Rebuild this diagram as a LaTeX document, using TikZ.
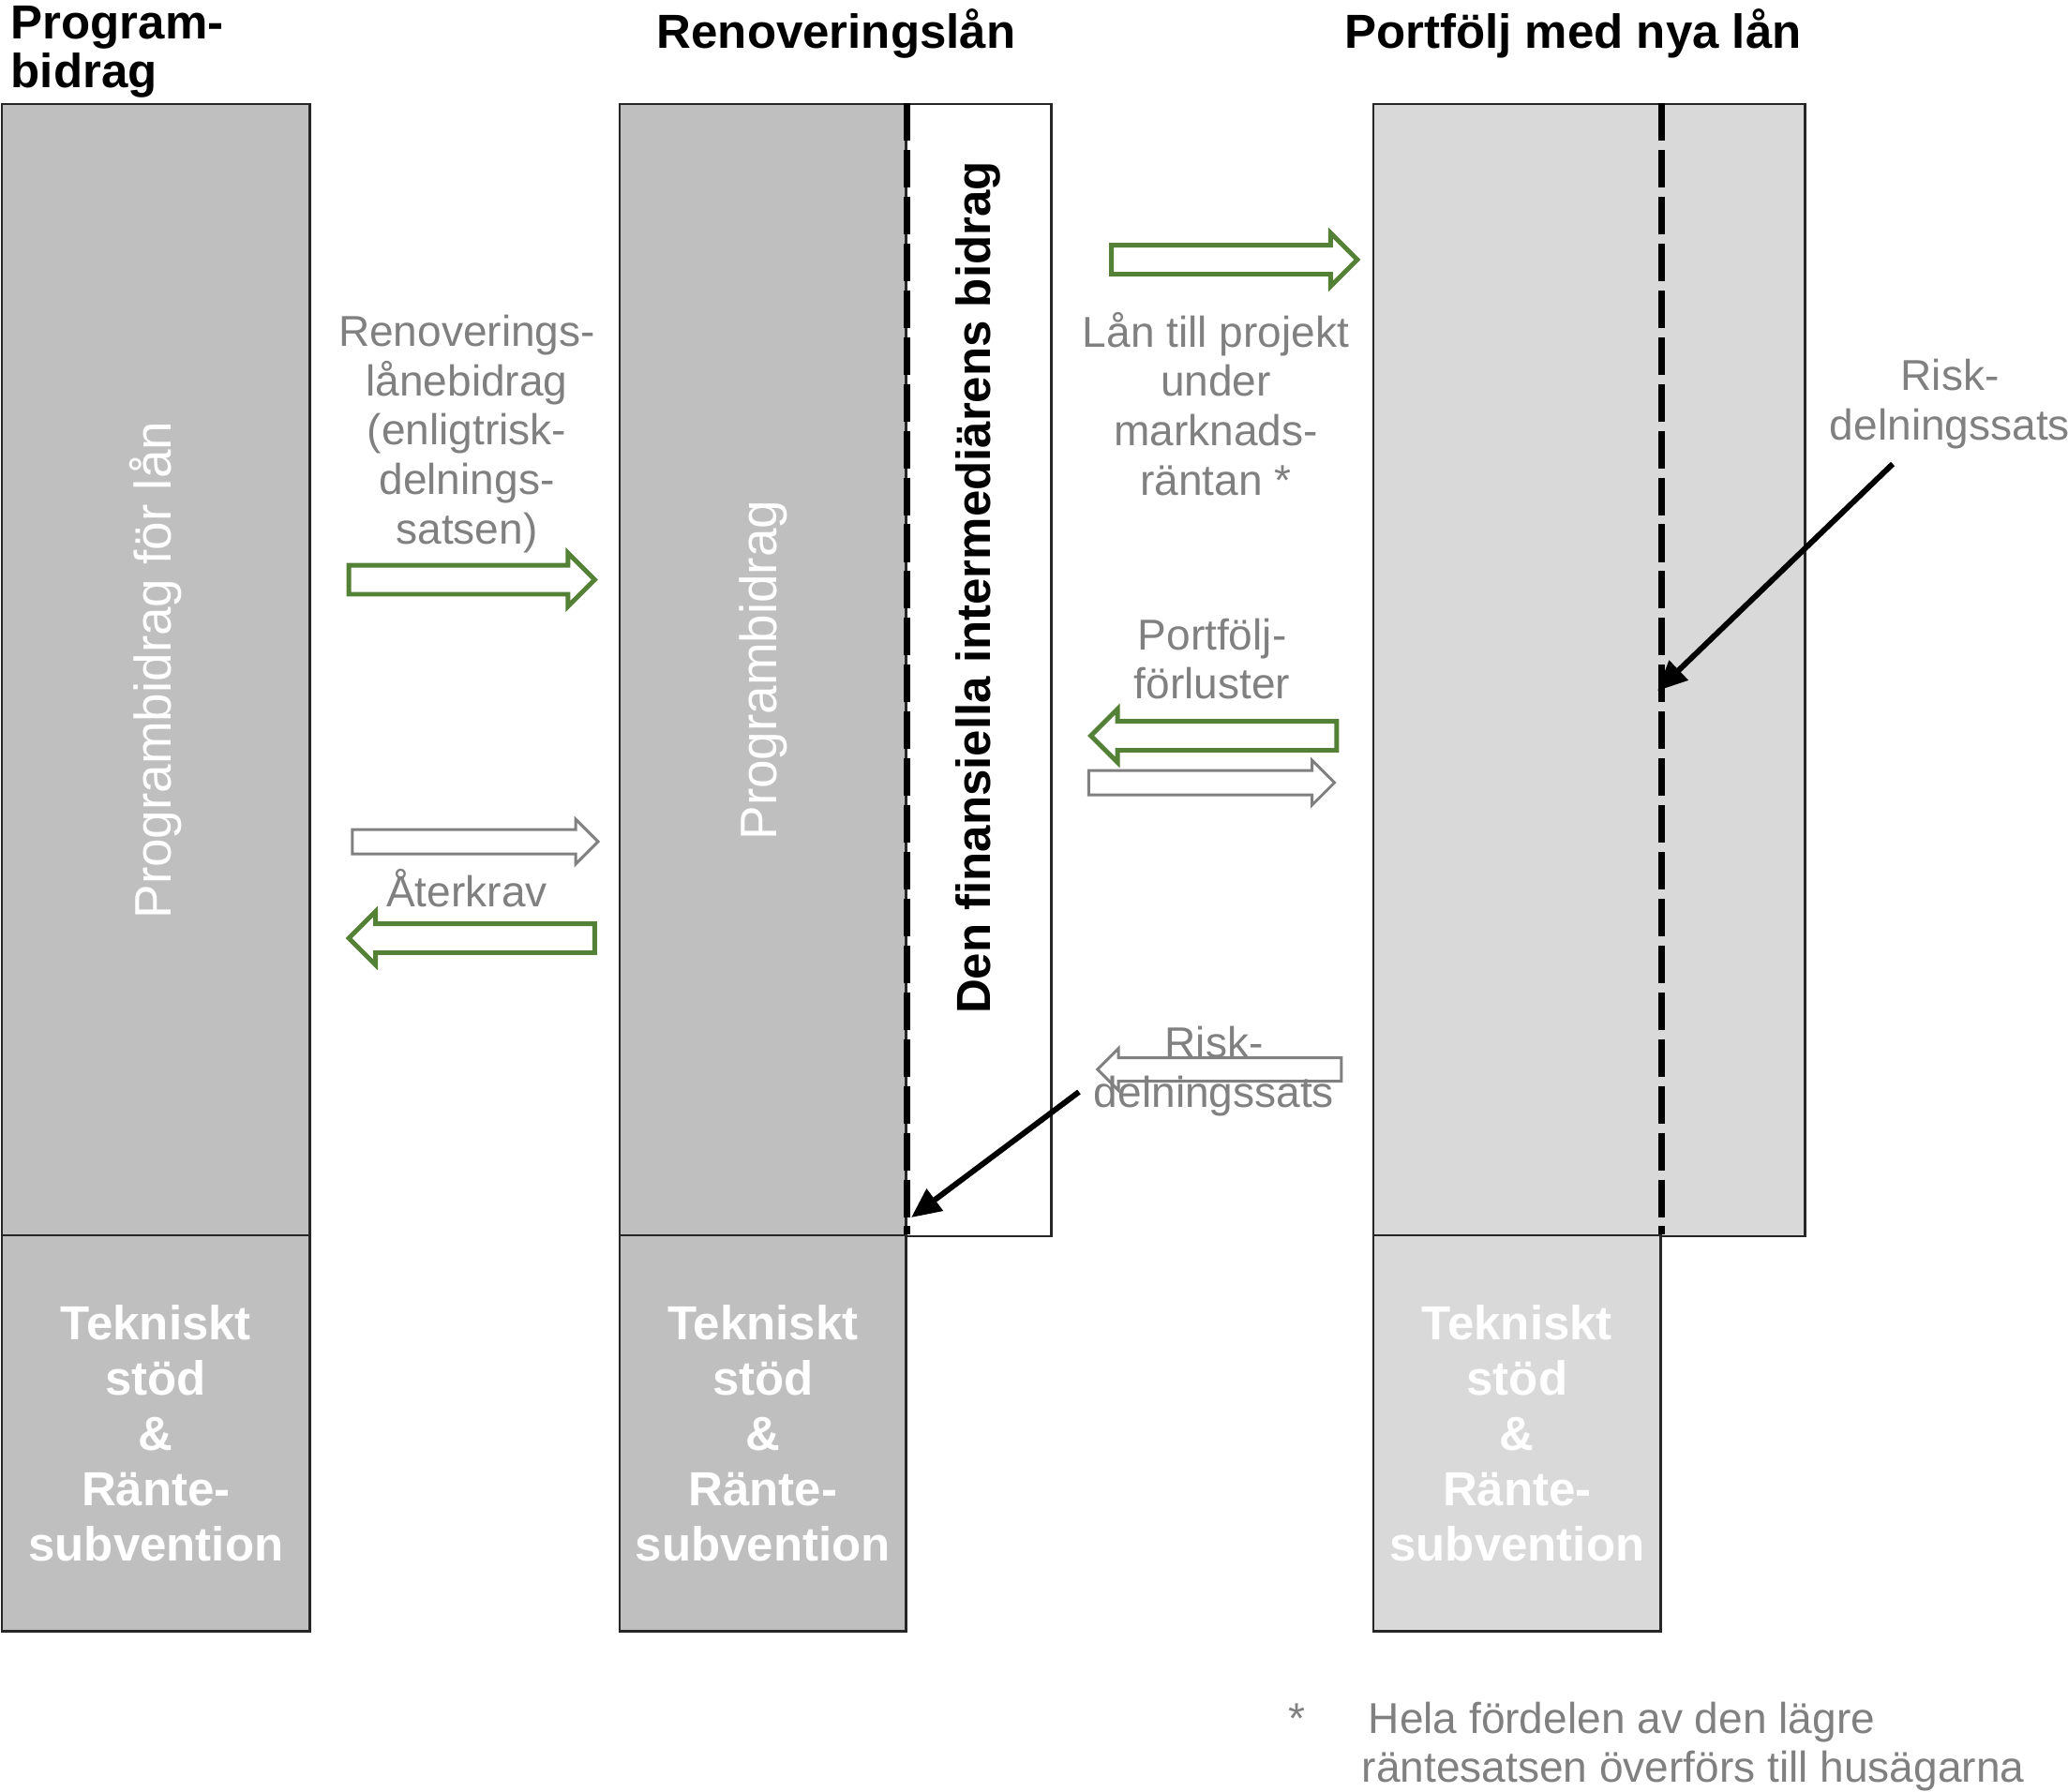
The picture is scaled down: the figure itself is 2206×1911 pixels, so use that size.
\documentclass[tikz,border=0pt]{standalone}
\usepackage{fontspec}
\setmainfont{Liberation Sans}
\usepackage{xcolor}
\definecolor{boxDark}  {HTML}{BFBFBF}
\definecolor{boxLight} {HTML}{D9D9D9}
\definecolor{flowGreen}{HTML}{538135}
\definecolor{noteGray} {HTML}{808080}
\usetikzlibrary{arrows.meta, positioning, calc, shapes.arrows}
\newcommand{\hdfont}{\bfseries\fontsize{14.5}{16.8}\selectfont}
\newcommand{\lblfont}{\fontsize{13.1}{15}\selectfont}
\newcommand{\sdfont}{\fontsize{15.6}{18}\selectfont}
\tikzset{
    panel/.style={draw=black!85, line width=0.7pt, inner sep=0pt, anchor=north west},
    darkpanel/.style={panel, fill=boxDark},
    lightpanel/.style={panel, fill=boxLight},
    techtext/.style={text=white, font=\hdfont, align=center},
    title/.style={font=\hdfont, inner sep=0pt, anchor=base},
    note/.style={text=noteGray, font=\lblfont, align=center, inner sep=0pt},
    sidetext/.style={text=white, font=\sdfont, rotate=90, inner sep=0pt},
    splitline/.style={line width=2pt, dash pattern=on 11.4pt off 2.8pt},
    flow/.style={single arrow, draw=flowGreen, line width=1.4pt, fill=white,
                 inner xsep=0pt, inner ysep=1.3mm, minimum height=26.2mm,
                 single arrow head extend=1.3mm, single arrow tip angle=90},
    flowback/.style={flow, draw=noteGray, line width=0.85pt, inner ysep=1.15mm,
                 single arrow head extend=1.1mm},
    leftward/.style={shape border rotate=180},
    riskarrow/.style={-{Triangle[length=9pt, width=8pt]}, line width=1.7pt},
}

\begin{document}
\begin{tikzpicture}[x=0.01cm, y=-0.01cm]
    \useasboundingbox (0,0) rectangle (2206,1911);

    % columns
    \node[darkpanel, minimum width=32.8mm, minimum height=120.7mm] (grantTop) at (1,110) {};
    \node[darkpanel, techtext, minimum width=32.8mm, minimum height=42.2mm] (grantTech) at (1,1317)
        {Tekniskt\\stöd\\\&\\Ränte-\\subvention};
    \node[panel, fill=white, minimum width=46mm, minimum height=120.7mm] (renoBox) at (660,110) {};
    \node[darkpanel, minimum width=30.5mm, minimum height=120.7mm] (renoGrant) at (660,110) {};
    \node[darkpanel, techtext, minimum width=30.5mm, minimum height=42.2mm] (renoTech) at (660,1317)
        {Tekniskt\\stöd\\\&\\Ränte-\\subvention};
    \node[lightpanel, minimum width=46mm, minimum height=120.7mm] (portBox) at (1464,110) {};
    \node[lightpanel, techtext, minimum width=30.6mm, minimum height=42.2mm] (portTech) at (1464,1317)
        {Tekniskt\\stöd\\\&\\Ränte-\\subvention};

    \draw[splitline] (renoTech.north east |- renoBox.north) -- (renoTech.north east);
    \draw[splitline] (portTech.north east |- portBox.north) -- (portTech.north east);

    % titles
    \node[font=\bfseries\fontsize{14.5}{14.8}\selectfont, align=left, inner sep=0pt,
          anchor=north west] (grantTitle) at (11,6) {Program-\\bidrag};
    \node[title] (renoTitle) at (892,51) {Renoveringslån};
    \node[title] (portTitle) at (1678,51) {Portfölj med nya lån};

    % text inside columns
    \node[sidetext] (grantSide) at (grantTop.center) {Programbidrag för lån};
    \node[sidetext] (renoSide) at (renoGrant.center) {Programbidrag};
    \node[sidetext, text=black, font=\hdfont] (fiSide) at (1043,627)
        {Den finansiella intermediärens bidrag};

    % block arrows
    \node[flow] (aGrant) at (495.5,618.5) {};
    \node[flowback] (aClawIn) at (500.5,898) {};
    \node[flow, leftward] (aClawOut) at (511,1001) {};
    \node[flow] (aLend) at (1309,277) {};
    \node[flow, leftward] (aLoss) at (1302.5,785) {};
    \node[flowback] (aLossBack) at (1286,835) {};
    \node[flowback, leftward, inner ysep=1.1mm, single arrow head extend=1mm,
          minimum height=26mm] (aRisk) at (1307,1141) {};

    % labels
    \node[note] (grantLbl) at (498,463)
        {Renoverings-\\lånebidrag\\(enligtrisk-\\delnings-\\satsen)};
    \node[note, anchor=base] (clawLbl) at (498,967) {Återkrav};
    \node[note] (lendLbl) at (1297,431) {Lån till projekt\\under\\marknads-\\räntan *};
    \node[note] (lossLbl) at (1293,703) {Portfölj-\\förluster};
    \node[note] (riskLbl) at (1295,1143) {Risk-\\delningssats};
    \node[note] (riskLblR) at (2080,431) {Risk-\\delningssats};

    % risk sharing pointers
    \coordinate (riskFromR) at (2019,495);
    \coordinate (riskHitR) at (1768,737);
    \draw[riskarrow] (riskFromR) -- (riskHitR);
    \coordinate (riskFrom) at (1151,1165);
    \coordinate (riskHit) at (972,1299);
    \draw[riskarrow] (riskFrom) -- (riskHit);

    % footnote
    \node[note, anchor=base] (noteStar) at (1383,1849) {*};
    \node[note, align=left, anchor=north west] (noteText) at (1452,1815)
        {\hspace*{2pt}Hela fördelen av den lägre\\räntesatsen överförs till husägarna};
\end{tikzpicture}
\end{document}
